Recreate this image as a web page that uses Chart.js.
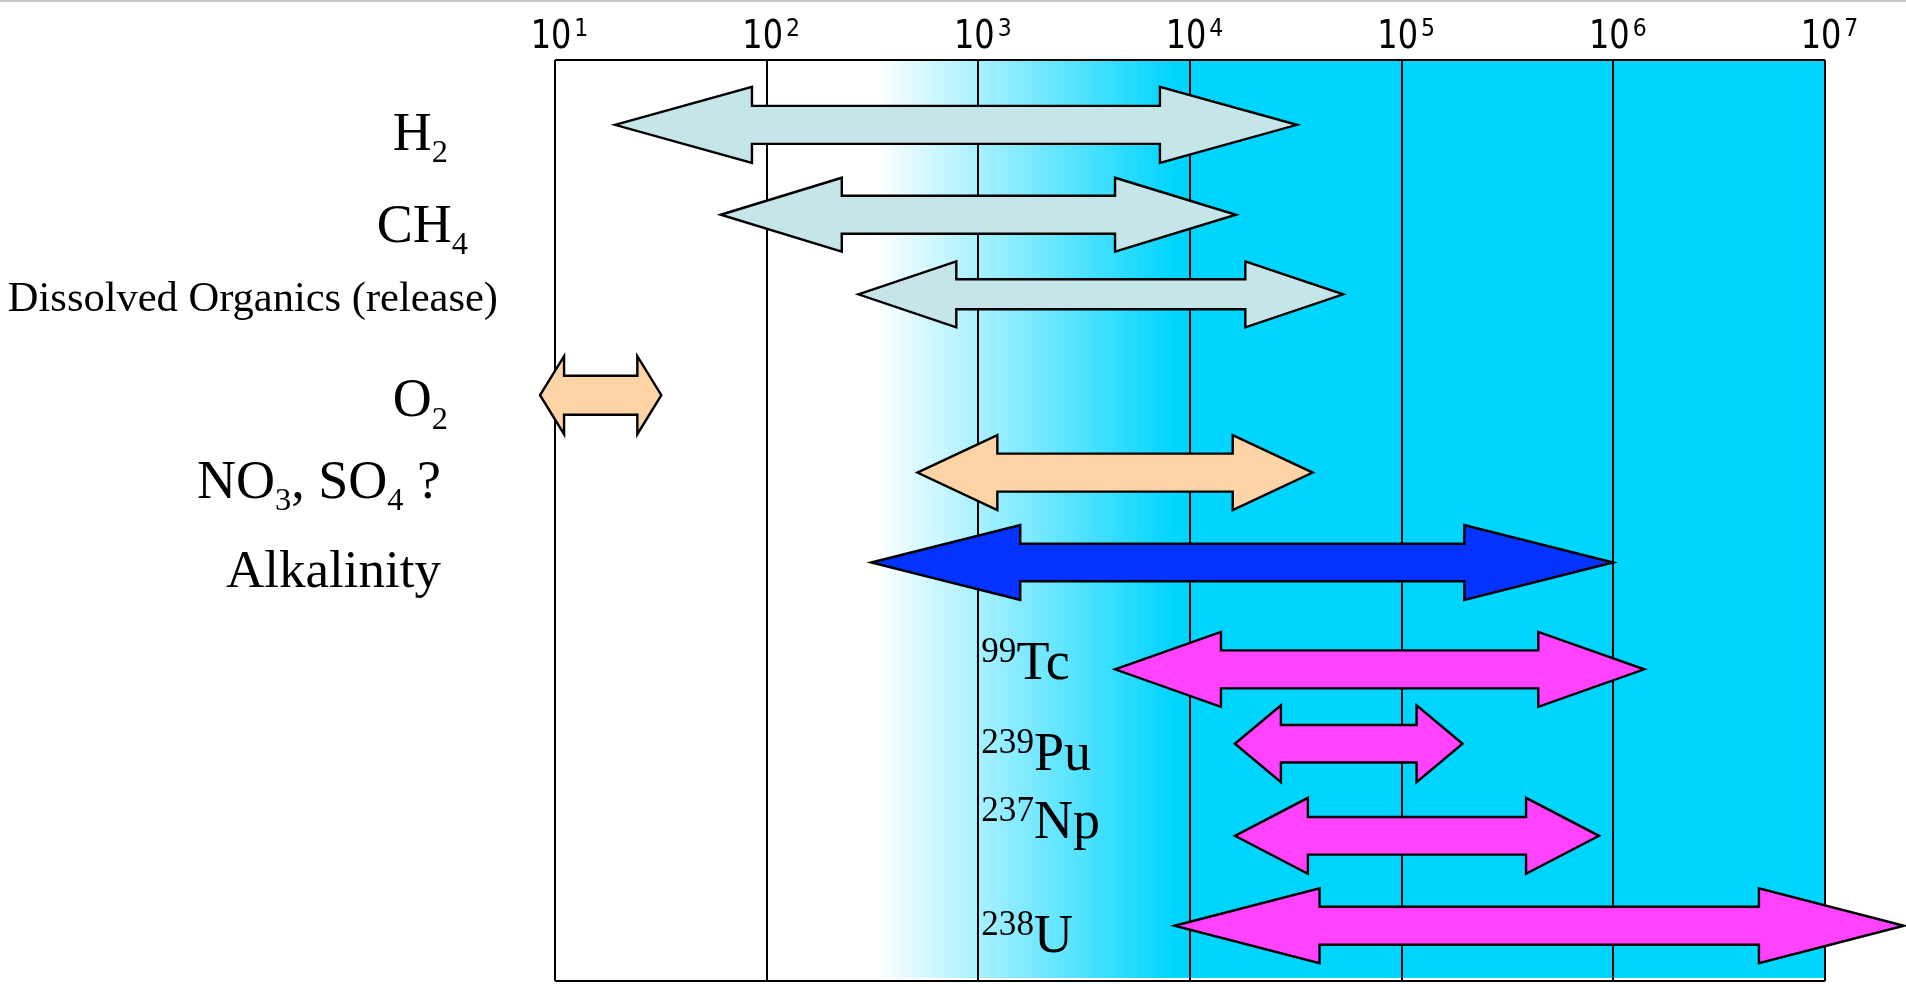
<!DOCTYPE html>
<html>
<head>
<meta charset="utf-8">
<script src="https://cdn.jsdelivr.net/npm/chart.js@4.4.0/dist/chart.umd.min.js"></script>
<style>
  html, body { margin: 0; padding: 0; background: #fff; }
  #wrap { width: 1906px; height: 984px; }
</style>
</head>
<body>
<div id="wrap"><canvas id="chart" width="1906" height="984"></canvas></div>
<script>
// Row labels (_{..} = subscript, ^{..} = superscript)
const rowLabels = ['H_{2}', 'CH_{4}', 'Dissolved Organics (release)', 'O_{2}', 'NO_{3}, SO_{4} ?',
    'Alkalinity', '^{99}Tc', '^{239}Pu', '^{237}Np', '^{238}U'];

// Time range of each arrow (log axis)
const rangeLow  = [19.2, 60.7, 271, 8.5, 515, 312, 4420, 16300, 16300, 8450];
const rangeHigh = [32000, 16500, 53000, 31.8, 38000, 1000000, 1400000, 194000, 856000, 23600000];

// Vertical level of each row (0 = top of the box)
const rowLevel = [0.88, 2.10, 3.18, 4.55, 5.60, 6.82, 8.27, 9.28, 10.53, 11.75];

// Axis ticks
const tickValues = [1e1, 1e2, 1e3, 1e4, 1e5, 1e6, 1e7];
const tickLabels = ['10^{1}', '10^{2}', '10^{3}', '10^{4}', '10^{5}', '10^{6}', '10^{7}'];

// Background shading: white -> cyan between these two values
const shadeFrom = 330;
const shadeTo = 8500;

// --- styles ---
const GREY = '#C5E5E8', PEACH = '#FED3A6', BLUE = '#0433FF', PINK = '#FF42FF', CYAN = '#00D5FF';
const arrowFill  = [GREY, GREY, GREY, PEACH, PEACH, BLUE, PINK, PINK, PINK, PINK];
const headLength = [137, 121, 98, 24, 80, 149, 106, 46, 73, 145];
const headHalf   = [38, 37, 33, 39, 37.5, 37.5, 37.5, 38.5, 38, 37.5];
const shaftHalf  = [19, 19, 15, 19.5, 19, 18.7, 19, 18.7, 18.8, 19];
const labelSize  = [54, 54, 42.5, 54, 54, 53, 54, 54, 54, 54];
const labelRight = [448, 468, 498, 448, 441, 441];      // left-hand labels, right edge
const labelDrop  = [25, 27, 17, 21, 25, 25, 10, 26, 2, 26]; // baseline below the row

function parseRich(text) {
    const parts = [];
    const re = /([_^])\{([^}]*)\}|([^_^]+)/g;
    let m;
    while ((m = re.exec(text))) {
        if (m[1]) parts.push({ text: m[2], kind: m[1] === '_' ? 'sub' : 'sup' });
        else parts.push({ text: m[3], kind: 'base' });
    }
    return parts;
}

function drawRich(ctx, text, x, y, size, align) {
    const parts = parseRich(text);
    const sizeFor = k => k === 'base' ? size : (k === 'sub' ? size * 0.6 : size * 0.65);
    let total = 0;
    parts.forEach(p => {
        ctx.font = sizeFor(p.kind) + 'px "Liberation Serif"';
        p.w = ctx.measureText(p.text).width;
        total += p.w;
    });
    let cx = align === 'right' ? x - total : x;
    ctx.textAlign = 'left';
    ctx.textBaseline = 'alphabetic';
    parts.forEach(p => {
        ctx.font = sizeFor(p.kind) + 'px "Liberation Serif"';
        const dy = p.kind === 'sub' ? size * 0.23 : (p.kind === 'sup' ? -size * 0.315 : 0);
        ctx.fillText(p.text, cx, y + dy);
        cx += p.w;
    });
}

const arrowPlugin = {
    id: 'arrows',
    beforeDraw(chart) {
        const ctx = chart.ctx;
        ctx.save();
        ctx.fillStyle = '#C8C8C8';
        ctx.fillRect(0, 0, chart.width, 2);
        ctx.restore();
    },
    beforeDatasetsDraw(chart) {
        const { ctx, chartArea: a, scales: { x } } = chart;
        ctx.save();
        // shaded background
        const g = ctx.createLinearGradient(x.getPixelForValue(shadeFrom), 0, x.getPixelForValue(shadeTo), 0);
        g.addColorStop(0, '#FFFFFF');
        g.addColorStop(1, CYAN);
        ctx.fillStyle = g;
        ctx.fillRect(a.left, a.top, a.right - a.left, a.bottom - a.top - 3);

        // grid + box
        ctx.strokeStyle = '#000';
        ctx.lineWidth = 2;
        ctx.beginPath();
        tickValues.forEach(v => {
            const px = Math.round(x.getPixelForValue(v));
            ctx.moveTo(px, a.top);
            ctx.lineTo(px, a.bottom);
        });
        ctx.moveTo(a.left, a.top); ctx.lineTo(a.right, a.top);
        ctx.moveTo(a.left, a.bottom); ctx.lineTo(a.right, a.bottom);
        ctx.stroke();

        // tick labels on top
        ctx.fillStyle = '#000';
        tickValues.forEach((v, i) => {
            const parts = parseRich(tickLabels[i]);
            const px = x.getPixelForValue(v) - 4;
            ctx.font = '32px "DejaVu Sans"';
            const w = ctx.measureText(parts[0].text).width;
            ctx.save();
            ctx.translate(px, 48);
            ctx.scale(1, 1.22);
            ctx.textAlign = 'center';
            ctx.textBaseline = 'alphabetic';
            ctx.fillText(parts[0].text, 0, 0);
            ctx.restore();
            ctx.save();
            ctx.translate(px + w / 2 + 3, 36);
            ctx.scale(1, 1.1);
            ctx.font = '22px "DejaVu Sans"';
            ctx.textAlign = 'left';
            ctx.fillText(parts[1].text, 0, 0);
            ctx.restore();
        });
        ctx.restore();
    },
    afterDatasetsDraw(chart) {
        const { ctx, scales: { x } } = chart;
        ctx.save();
        chart.data.datasets.forEach((ds, i) => {
            const pts = chart.getDatasetMeta(i).data;
            const l = pts[0].x, r = pts[1].x, cy = pts[0].y;
            const hl = headLength[i], hh = headHalf[i], sh = shaftHalf[i];
            ctx.beginPath();
            ctx.moveTo(l, cy);
            ctx.lineTo(l + hl, cy - hh);
            ctx.lineTo(l + hl, cy - sh);
            ctx.lineTo(r - hl, cy - sh);
            ctx.lineTo(r - hl, cy - hh);
            ctx.lineTo(r, cy);
            ctx.lineTo(r - hl, cy + hh);
            ctx.lineTo(r - hl, cy + sh);
            ctx.lineTo(l + hl, cy + sh);
            ctx.lineTo(l + hl, cy + hh);
            ctx.closePath();
            ctx.fillStyle = arrowFill[i];
            ctx.fill();
            ctx.lineWidth = 2.4;
            ctx.lineJoin = 'miter';
            ctx.strokeStyle = '#000';
            ctx.stroke();

            // label
            ctx.fillStyle = '#000';
            const by = cy + labelDrop[i];
            if (i < labelRight.length) {
                drawRich(ctx, rowLabels[i], labelRight[i], by, labelSize[i], 'right');
            } else {
                drawRich(ctx, rowLabels[i], x.getPixelForValue(1000) + 3, by, labelSize[i], 'left');
            }
        });
        ctx.restore();
    }
};

const datasets = rowLabels.map((name, i) => ({
    label: name,
    data: [{ x: rangeLow[i], y: rowLevel[i] }, { x: rangeHigh[i], y: rowLevel[i] }],
    pointRadius: 0,
    pointHoverRadius: 0,
    showLine: false
}));

new Chart(document.getElementById('chart'), {
    type: 'scatter',
    data: { datasets: datasets },
    options: {
        responsive: false,
        animation: false,
        devicePixelRatio: 1,
        events: [],
        layout: { padding: { left: 555, right: 81, top: 60, bottom: 3 } },
        scales: {
            x: { type: 'logarithmic', min: 10, max: 1e7, display: false },
            y: { type: 'linear', min: 0, max: 12.5, reverse: true, display: false }
        },
        plugins: {
            legend: { display: false },
            tooltip: { enabled: false }
        },
        clip: false
    },
    plugins: [arrowPlugin]
});
</script>
</body>
</html>
